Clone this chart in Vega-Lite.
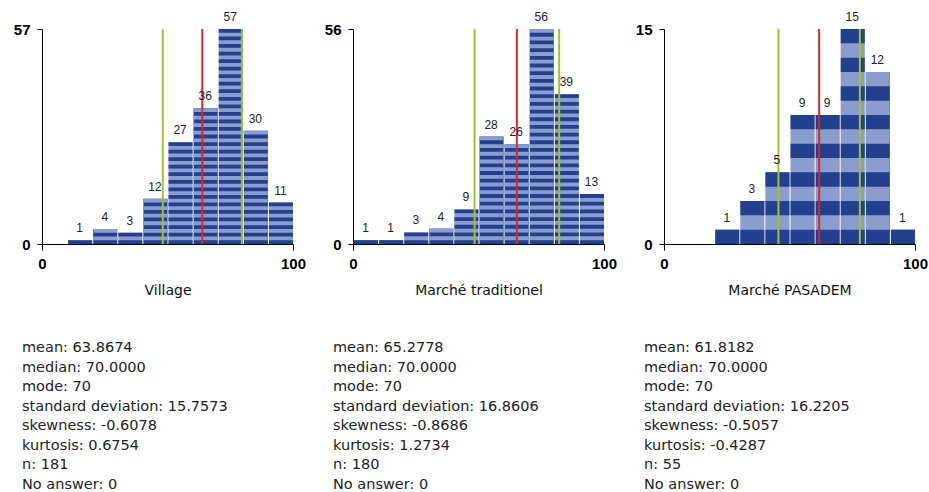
{
  "$schema": "https://vega.github.io/schema/vega-lite/v6.json",
  "padding": {"left": 13, "top": 11, "right": 5, "bottom": 5},
  "background": "white",
  "datasets": {
    "bars": [
      {"p": "Village", "v": 15, "n": 1},
      {"p": "Village", "v": 25, "n": 4},
      {"p": "Village", "v": 35, "n": 3},
      {"p": "Village", "v": 45, "n": 12},
      {"p": "Village", "v": 55, "n": 27},
      {"p": "Village", "v": 65, "n": 36},
      {"p": "Village", "v": 75, "n": 57},
      {"p": "Village", "v": 85, "n": 30},
      {"p": "Village", "v": 95, "n": 11},
      {"p": "Trad", "v": 5, "n": 1},
      {"p": "Trad", "v": 15, "n": 1},
      {"p": "Trad", "v": 25, "n": 3},
      {"p": "Trad", "v": 35, "n": 4},
      {"p": "Trad", "v": 45, "n": 9},
      {"p": "Trad", "v": 55, "n": 28},
      {"p": "Trad", "v": 65, "n": 26},
      {"p": "Trad", "v": 75, "n": 56},
      {"p": "Trad", "v": 85, "n": 39},
      {"p": "Trad", "v": 95, "n": 13},
      {"p": "PAS", "v": 25, "n": 1},
      {"p": "PAS", "v": 35, "n": 3},
      {"p": "PAS", "v": 45, "n": 5},
      {"p": "PAS", "v": 55, "n": 9},
      {"p": "PAS", "v": 65, "n": 9},
      {"p": "PAS", "v": 75, "n": 15},
      {"p": "PAS", "v": 85, "n": 12},
      {"p": "PAS", "v": 95, "n": 1}
    ],
    "lines": [
      {"p": "Village", "k": "lo", "x": 48.1101},
      {"p": "Village", "k": "mean", "x": 63.8674},
      {"p": "Village", "k": "hi", "x": 79.6247},
      {"p": "Trad", "k": "lo", "x": 48.4172},
      {"p": "Trad", "k": "mean", "x": 65.2778},
      {"p": "Trad", "k": "hi", "x": 82.1384},
      {"p": "PAS", "k": "lo", "x": 45.5977},
      {"p": "PAS", "k": "mean", "x": 61.8182},
      {"p": "PAS", "k": "hi", "x": 78.0387}
    ]
  },
  "hconcat": [
    {
      "width": 251, "height": 215,
      "title": {"text": ["mean: 63.8674", "median: 70.0000", "mode: 70", "standard deviation: 15.7573", "skewness: -0.6078", "kurtosis: 0.6754", "n: 181", "No answer: 0"]},
      "layer": [
        {"data": {"name": "bars"}, "transform": [{"filter": "datum.p === 'Village'"}],
         "mark": {"type": "bar"},
         "encoding": {
           "x": {"field": "v", "type": "quantitative", "bin": {"step": 10, "extent": [0, 100]}, "scale": {"domain": [0, 100]}, "axis": {"values": [0, 100], "title": "Village"}},
           "y": {"field": "n", "type": "quantitative", "scale": {"domain": [0, 57], "nice": false}, "axis": {"values": [0, 57], "title": null}},
           "color": {"condition": {"test": "datum.n % 2 == 0", "value": "#22408d"}, "value": "#8b9dcc"}
         }},
        {"data": {"name": "bars"}, "transform": [{"filter": "datum.p === 'Village'"}],
         "mark": {"type": "rule", "strokeWidth": 24, "strokeDash": [3.7719, 3.7719], "xOffset": 0.5},
         "encoding": {
           "x": {"field": "v", "type": "quantitative"},
           "y": {"field": "n", "type": "quantitative"},
           "y2": {"datum": 0},
           "color": {"condition": {"test": "datum.n % 2 == 0", "value": "#8b9dcc"}, "value": "#22408d"}
         }},
        {"data": {"name": "lines"}, "transform": [{"filter": "datum.p === 'Village'"}],
         "mark": {"type": "rule", "strokeWidth": 2},
         "encoding": {
           "x": {"field": "x", "type": "quantitative"},
           "color": {"field": "k", "type": "nominal", "scale": {"domain": ["lo", "mean", "hi"], "range": ["#a0c02c", "#d9262e", "#a0c02c"]}, "legend": null}
         }},
        {"data": {"name": "bars"}, "transform": [{"filter": "datum.p === 'Village'"}],
         "mark": {"type": "text", "baseline": "bottom", "dy": -5, "fontSize": 12, "color": "#222"},
         "encoding": {
           "x": {"field": "v", "type": "quantitative"},
           "y": {"field": "n", "type": "quantitative"},
           "text": {"field": "n", "type": "quantitative"}
         }}
      ]
    },
    {
      "width": 251, "height": 215,
      "title": {"text": ["mean: 65.2778", "median: 70.0000", "mode: 70", "standard deviation: 16.8606", "skewness: -0.8686", "kurtosis: 1.2734", "n: 180", "No answer: 0"]},
      "layer": [
        {"data": {"name": "bars"}, "transform": [{"filter": "datum.p === 'Trad'"}],
         "mark": {"type": "bar"},
         "encoding": {
           "x": {"field": "v", "type": "quantitative", "bin": {"step": 10, "extent": [0, 100]}, "scale": {"domain": [0, 100]}, "axis": {"values": [0, 100], "title": "Marché traditionel"}},
           "y": {"field": "n", "type": "quantitative", "scale": {"domain": [0, 56], "nice": false}, "axis": {"values": [0, 56], "title": null}},
           "color": {"condition": {"test": "datum.n % 2 == 0", "value": "#22408d"}, "value": "#8b9dcc"}
         }},
        {"data": {"name": "bars"}, "transform": [{"filter": "datum.p === 'Trad'"}],
         "mark": {"type": "rule", "strokeWidth": 24, "strokeDash": [3.8393, 3.8393], "xOffset": 0.5},
         "encoding": {
           "x": {"field": "v", "type": "quantitative"},
           "y": {"field": "n", "type": "quantitative"},
           "y2": {"datum": 0},
           "color": {"condition": {"test": "datum.n % 2 == 0", "value": "#8b9dcc"}, "value": "#22408d"}
         }},
        {"data": {"name": "lines"}, "transform": [{"filter": "datum.p === 'Trad'"}],
         "mark": {"type": "rule", "strokeWidth": 2},
         "encoding": {
           "x": {"field": "x", "type": "quantitative"},
           "color": {"field": "k", "type": "nominal", "scale": {"domain": ["lo", "mean", "hi"], "range": ["#a0c02c", "#d9262e", "#a0c02c"]}, "legend": null}
         }},
        {"data": {"name": "bars"}, "transform": [{"filter": "datum.p === 'Trad'"}],
         "mark": {"type": "text", "baseline": "bottom", "dy": -5, "fontSize": 12, "color": "#222"},
         "encoding": {
           "x": {"field": "v", "type": "quantitative"},
           "y": {"field": "n", "type": "quantitative"},
           "text": {"field": "n", "type": "quantitative"}
         }}
      ]
    },
    {
      "width": 251, "height": 215,
      "title": {"text": ["mean: 61.8182", "median: 70.0000", "mode: 70", "standard deviation: 16.2205", "skewness: -0.5057", "kurtosis: -0.4287", "n: 55", "No answer: 0"]},
      "layer": [
        {"data": {"name": "bars"}, "transform": [{"filter": "datum.p === 'PAS'"}],
         "mark": {"type": "bar"},
         "encoding": {
           "x": {"field": "v", "type": "quantitative", "bin": {"step": 10, "extent": [0, 100]}, "scale": {"domain": [0, 100]}, "axis": {"values": [0, 100], "title": "Marché PASADEM"}},
           "y": {"field": "n", "type": "quantitative", "scale": {"domain": [0, 15], "nice": false}, "axis": {"values": [0, 15], "title": null}},
           "color": {"condition": {"test": "datum.n % 2 == 0", "value": "#22408d"}, "value": "#8b9dcc"}
         }},
        {"data": {"name": "bars"}, "transform": [{"filter": "datum.p === 'PAS'"}],
         "mark": {"type": "rule", "strokeWidth": 24, "strokeDash": [14.3333, 14.3333], "xOffset": 0.5},
         "encoding": {
           "x": {"field": "v", "type": "quantitative"},
           "y": {"field": "n", "type": "quantitative"},
           "y2": {"datum": 0},
           "color": {"condition": {"test": "datum.n % 2 == 0", "value": "#8b9dcc"}, "value": "#22408d"}
         }},
        {"data": {"name": "lines"}, "transform": [{"filter": "datum.p === 'PAS'"}],
         "mark": {"type": "rule", "strokeWidth": 2},
         "encoding": {
           "x": {"field": "x", "type": "quantitative"},
           "color": {"field": "k", "type": "nominal", "scale": {"domain": ["lo", "mean", "hi"], "range": ["#a0c02c", "#d9262e", "#a0c02c"]}, "legend": null}
         }},
        {"data": {"name": "bars"}, "transform": [{"filter": "datum.p === 'PAS'"}],
         "mark": {"type": "text", "baseline": "bottom", "dy": -5, "fontSize": 12, "color": "#222"},
         "encoding": {
           "x": {"field": "v", "type": "quantitative"},
           "y": {"field": "n", "type": "quantitative"},
           "text": {"field": "n", "type": "quantitative"}
         }}
      ]
    }
  ],
  "spacing": 60,
  "bounds": "flush",
  "resolve": {"scale": {"x": "independent", "y": "independent", "color": "independent"}},
  "config": {
    "font": "Liberation Sans",
    "view": {"stroke": null},
    "axis": {
      "grid": false,
      "domainColor": "#000",
      "tickColor": "#000",
      "labelColor": "#000",
      "labelFont": "Liberation Sans",
      "labelFontWeight": "bold",
      "labelFontSize": 15,
      "labelFlush": false,
      "labelOverlap": false,
      "titleFont": "DejaVu Sans",
      "titleFontWeight": "normal",
      "titleFontSize": 14,
      "titleColor": "#111"
    },
    "axisX": {"tickSize": 6, "labelPadding": 6, "titlePadding": 12, "format": "d"},
    "axisY": {"tickSize": 5, "labelPadding": 7},
    "title": {
      "orient": "bottom",
      "anchor": "start",
      "frame": "group",
      "dx": -20,
      "offset": 44,
      "baseline": "top",
      "align": "left",
      "fontSize": 14.5,
      "fontWeight": "normal",
      "font": "DejaVu Sans",
      "lineHeight": 19.5,
      "color": "#222"
    }
  }
}
